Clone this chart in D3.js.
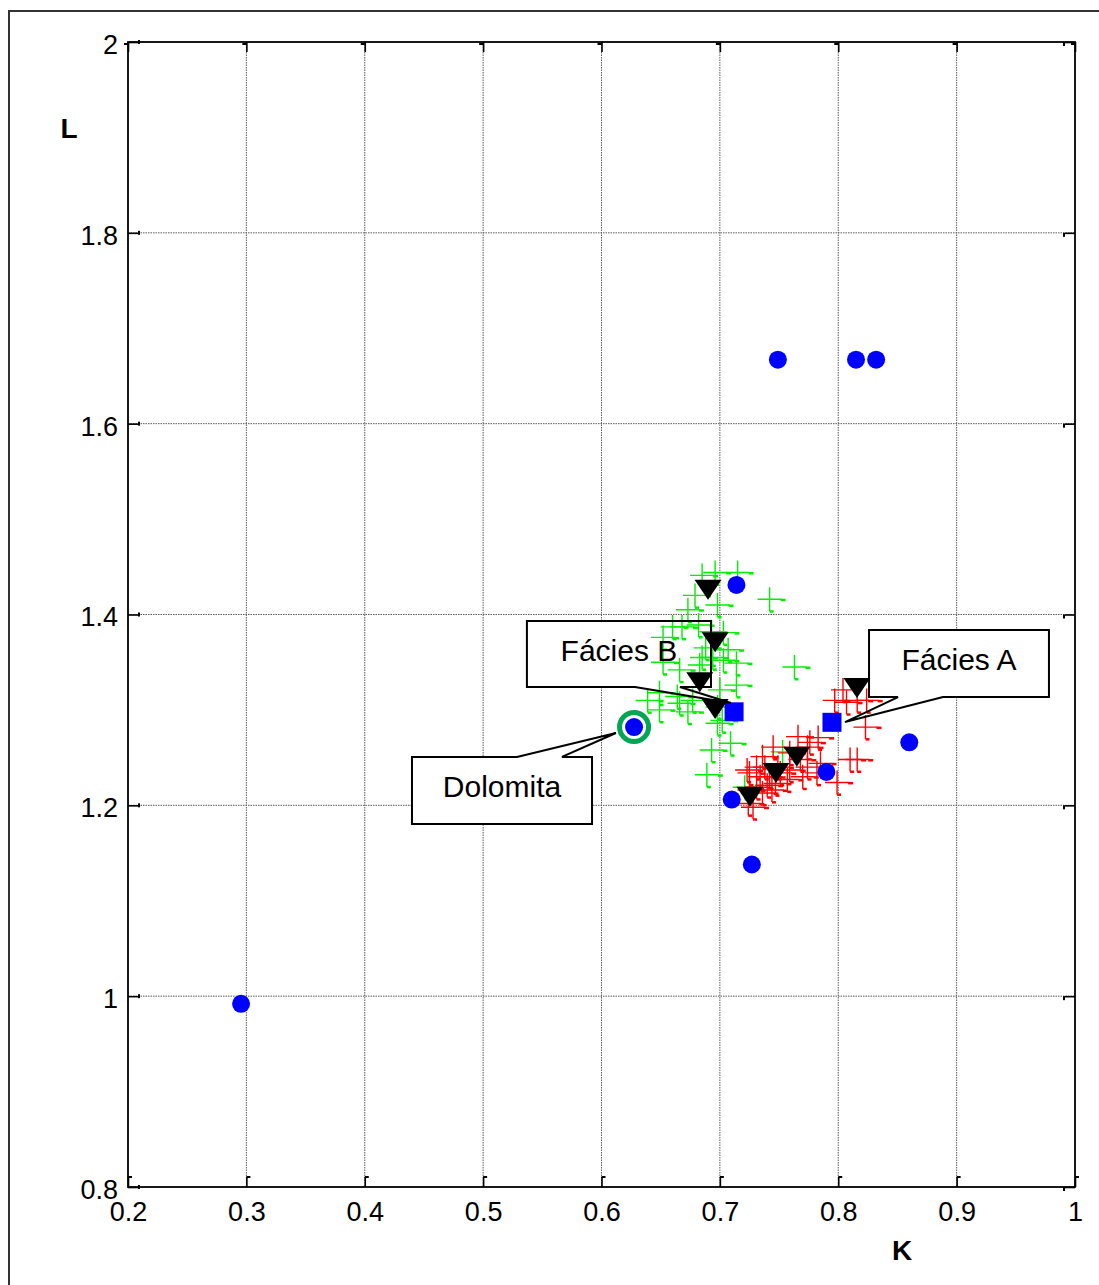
<!DOCTYPE html>
<html>
<head>
<meta charset="utf-8">
<script src="https://cdn.jsdelivr.net/npm/d3@7"></script>
<style>
  html, body { margin: 0; padding: 0; background: #fff; }
  svg { display: block; font-family: "Liberation Sans", Arial, sans-serif; }
</style>
</head>
<body>
<script>
// Axis ticks and labels
const xTicks = [0.2, 0.3, 0.4, 0.5, 0.6, 0.7, 0.8, 0.9, 1.0];
const xTickLabels = ["0.2", "0.3", "0.4", "0.5", "0.6", "0.7", "0.8", "0.9", "1"];
const yTicks = [0.8, 1.0, 1.2, 1.4, 1.6, 1.8, 2.0];
const yTickLabels = ["0.8", "1", "1.2", "1.4", "1.6", "1.8", "2"];

// Fácies B samples (green crosses): [K, L]
const faciesB = [
  [0.685, 1.441], [0.696, 1.444], [0.715, 1.444], [0.679, 1.420], [0.742, 1.416],
  [0.698, 1.410], [0.673, 1.405], [0.668, 1.387], [0.652, 1.376], [0.682, 1.389],
  [0.660, 1.387], [0.693, 1.382], [0.703, 1.381], [0.707, 1.363], [0.688, 1.365],
  [0.685, 1.355], [0.694, 1.355], [0.703, 1.352], [0.714, 1.349], [0.763, 1.345],
  [0.652, 1.350], [0.666, 1.342], [0.683, 1.347], [0.714, 1.326], [0.700, 1.321],
  [0.649, 1.318], [0.664, 1.314], [0.677, 1.310], [0.639, 1.310], [0.666, 1.307],
  [0.698, 1.303], [0.649, 1.300], [0.673, 1.298], [0.702, 1.289], [0.698, 1.286],
  [0.709, 1.265], [0.693, 1.258], [0.753, 1.256], [0.689, 1.232], [0.721, 1.219]
];

// Fácies A samples (red crosses): [K, L]
const faciesA = [
  [0.804, 1.321], [0.807, 1.308], [0.816, 1.310], [0.824, 1.310], [0.797, 1.310],
  [0.823, 1.282], [0.783, 1.271], [0.766, 1.272], [0.776, 1.266], [0.774, 1.261],
  [0.745, 1.261], [0.759, 1.255], [0.736, 1.251], [0.768, 1.248], [0.810, 1.248],
  [0.816, 1.248], [0.785, 1.244], [0.774, 1.240], [0.749, 1.240], [0.738, 1.240],
  [0.731, 1.240], [0.759, 1.237], [0.723, 1.237], [0.782, 1.234], [0.751, 1.234],
  [0.725, 1.234], [0.734, 1.230], [0.742, 1.230], [0.770, 1.230], [0.757, 1.227],
  [0.799, 1.224], [0.747, 1.223], [0.740, 1.221], [0.731, 1.219], [0.744, 1.216],
  [0.725, 1.216], [0.736, 1.213], [0.724, 1.202], [0.728, 1.198]
];

// Reference minerals (blue circles): [K, L]
const minerals = [
  [0.749, 1.667], [0.815, 1.667], [0.832, 1.667], [0.714, 1.431],
  [0.6275, 1.282], [0.860, 1.266], [0.790, 1.235], [0.710, 1.206],
  [0.727, 1.138], [0.2955, 0.992]
];
// Dolomita is highlighted with a ring
const dolomita = [0.6275, 1.282];

// Facies mean values (blue squares): [K, L]
const faciesMeans = [[0.712, 1.298], [0.7947, 1.287]];

// Well averages (black triangles): [K, L]
const wellMeans = [
  [0.690, 1.426], [0.696, 1.371], [0.683, 1.329], [0.696, 1.301],
  [0.7254, 1.209], [0.7474, 1.234], [0.765, 1.251], [0.8158, 1.323]
];

// Callout labels, placed in data units
const callouts = [
  { text: "Fácies B", box: [0.537, 0.6925, 1.3932, 1.324], side: "bottom",
    base: [0.6283, 0.6663], tip: [0.7094, 1.3072] },
  { text: "Fácies A", box: [0.826, 0.978, 1.3838, 1.3135], side: "bottom",
    base: [0.8505, 0.8885], tip: [0.8057, 1.2873] },
  { text: "Dolomita", box: [0.4399, 0.592, 1.2507, 1.1804], side: "top",
    base: [0.5286, 0.5666], tip: [0.6122, 1.2758] }
];

const W = 1099, H = 1285;
const plot = { left: 128, right: 1075, top: 42, bottom: 1187 };

const svg = d3.select("body").append("svg")
  .attr("width", W).attr("height", H);

// outer figure frame (runs past the right and bottom edges)
svg.append("rect")
  .attr("x", 9).attr("y", 11).attr("width", 1300).attr("height", 1400)
  .attr("fill", "#fff").attr("stroke", "#333").attr("stroke-width", 2);

const x = d3.scaleLinear().domain([0.2, 1.0]).range([plot.left, plot.right]);
const y = d3.scaleLinear().domain([0.8, 2.0]).range([plot.bottom, plot.top]);

// grid
const grid = svg.append("g").attr("stroke", "#5a5a5a").attr("stroke-width", 1)
  .attr("stroke-dasharray", "1.5,1");
grid.selectAll(".gx").data(xTicks.slice(1, -1)).join("line")
  .attr("x1", d => x(d)).attr("x2", d => x(d))
  .attr("y1", plot.top).attr("y2", plot.bottom);
grid.selectAll(".gy").data(yTicks.slice(1, -1)).join("line")
  .attr("y1", d => y(d)).attr("y2", d => y(d))
  .attr("x1", plot.left).attr("x2", plot.right);

// axes: inward ticks on all four sides, labels on bottom and left
const fontSize = 27;
const axB = svg.append("g").attr("transform", `translate(0,${plot.bottom})`)
  .call(d3.axisBottom(x).tickValues(xTicks).tickFormat((d, i) => xTickLabels[i])
    .tickSize(-10).tickSizeOuter(0).tickPadding(15));
const axL = svg.append("g").attr("transform", `translate(${plot.left},0)`)
  .call(d3.axisLeft(y).tickValues(yTicks).tickFormat((d, i) => yTickLabels[i])
    .tickSize(-10).tickSizeOuter(0).tickPadding(10));
const axT = svg.append("g").attr("transform", `translate(0,${plot.top})`)
  .call(d3.axisTop(x).tickValues(xTicks).tickFormat("").tickSize(-10).tickSizeOuter(0));
const axR = svg.append("g").attr("transform", `translate(${plot.right},0)`)
  .call(d3.axisRight(y).tickValues(yTicks).tickFormat("").tickSize(-10).tickSizeOuter(0));

[axB, axL, axT, axR].forEach(g => {
  g.select(".domain").remove();
  g.selectAll(".tick line").attr("stroke", "#000").attr("stroke-width", 1.6);
  g.selectAll(".tick text").attr("fill", "#000")
    .style("font-size", fontSize + "px").style("font-family", "Liberation Sans, Arial, sans-serif");
});
axL.selectAll(".tick text").attr("dy", "0.42em");

// small tick end nubs
const nub = svg.append("g").attr("fill", "#000");
nub.selectAll(".nb").data(xTicks).join("rect")
  .attr("x", d => x(d)).attr("y", plot.bottom - 11).attr("width", 4).attr("height", 2);
nub.selectAll(".nt").data(xTicks).join("rect")
  .attr("x", d => x(d) - 4).attr("y", plot.top + 1).attr("width", 4).attr("height", 2);
nub.selectAll(".nl").data(yTicks).join("rect")
  .attr("x", plot.left + 10).attr("y", d => y(d) - 2).attr("width", 2).attr("height", 4);
nub.selectAll(".nr").data(yTicks).join("rect")
  .attr("x", plot.right - 12).attr("y", d => y(d)).attr("width", 2).attr("height", 4);

// plot box
svg.append("rect")
  .attr("x", plot.left).attr("y", plot.top)
  .attr("width", plot.right - plot.left).attr("height", plot.bottom - plot.top)
  .attr("fill", "none").attr("stroke", "#000").attr("stroke-width", 1.8);

// axis titles
svg.append("text").attr("x", 69).attr("y", 138).attr("text-anchor", "middle")
  .style("font-size", "28px").style("font-weight", "bold").text("L");
svg.append("text").attr("x", 902).attr("y", 1260).attr("text-anchor", "middle")
  .style("font-size", "28px").style("font-weight", "bold").text("K");

// callout path builder
function calloutPath(c) {
  const [x0, x1, yt, yb] = c.box;
  const L = x(x0), R = x(x1), T = y(yt), B = y(yb);
  const b0 = x(c.base[0]), b1 = x(c.base[1]);
  const tx = x(c.tip[0]), ty = y(c.tip[1]);
  if (c.side === "bottom") {
    return `M${L},${T}H${R}V${B}H${b1}L${tx},${ty}L${b0},${B}H${L}Z`;
  }
  return `M${L},${T}H${b0}L${tx},${ty}L${b1},${T}H${R}V${B}H${L}Z`;
}

// callout backgrounds
svg.append("g").selectAll("path").data(callouts).join("path")
  .attr("d", calloutPath).attr("fill", "#fff").attr("stroke", "none");

// cross markers with their small end dashes
function crosses(data, color) {
  const g = svg.append("g");
  const arm = 12;
  g.selectAll("path").data(data).join("path")
    .attr("d", d => {
      const cx = x(d[0]), cy = y(d[1]);
      return `M${cx - arm},${cy}H${cx + arm}M${cx},${cy - arm}V${cy + arm}`;
    })
    .attr("stroke", color).attr("stroke-width", 1.4).attr("fill", "none");
  g.selectAll("rect.r").data(data).join("rect").attr("class", "r")
    .attr("x", d => x(d[0]) + arm - 1).attr("y", d => y(d[1]) - 0.5)
    .attr("width", 5).attr("height", 2.5).attr("fill", color);
  g.selectAll("rect.b").data(data).join("rect").attr("class", "b")
    .attr("x", d => x(d[0])).attr("y", d => y(d[1]) + arm - 1)
    .attr("width", 4).attr("height", 2.5).attr("fill", color);
}
crosses(faciesB, "#00f000");
crosses(faciesA, "#ff0000");

// Dolomita ring
svg.append("circle")
  .attr("cx", x(dolomita[0])).attr("cy", y(dolomita[1])).attr("r", 14.5)
  .attr("fill", "#fff").attr("stroke", "#00a651").attr("stroke-width", 5);

// minerals
svg.append("g").selectAll("circle").data(minerals).join("circle")
  .attr("cx", d => x(d[0])).attr("cy", d => y(d[1])).attr("r", 9)
  .attr("fill", "#0000ff");

// facies means
svg.append("g").selectAll("rect").data(faciesMeans).join("rect")
  .attr("x", d => x(d[0]) - 9.5).attr("y", d => y(d[1]) - 9.5)
  .attr("width", 19).attr("height", 19).attr("fill", "#0000ff");

// well averages (downward triangles)
svg.append("g").selectAll("path").data(wellMeans).join("path")
  .attr("d", d => {
    const cx = x(d[0]), cy = y(d[1]);
    return `M${cx - 13.5},${cy - 10}L${cx + 13.5},${cy - 10}L${cx},${cy + 10}Z`;
  })
  .attr("fill", "#000");

// callout outlines and labels
svg.append("g").selectAll("path").data(callouts).join("path")
  .attr("d", calloutPath).attr("fill", "none").attr("stroke", "#000")
  .attr("stroke-width", 2).attr("stroke-linejoin", "miter");
svg.append("g").selectAll("text").data(callouts).join("text")
  .attr("x", c => (x(c.box[0]) + x(c.box[1])) / 2)
  .attr("y", c => (y(c.box[2]) + y(c.box[3])) / 2 + 7)
  .attr("text-anchor", "middle")
  .style("font-size", "30px")
  .text(c => c.text);
</script>
</body>
</html>
